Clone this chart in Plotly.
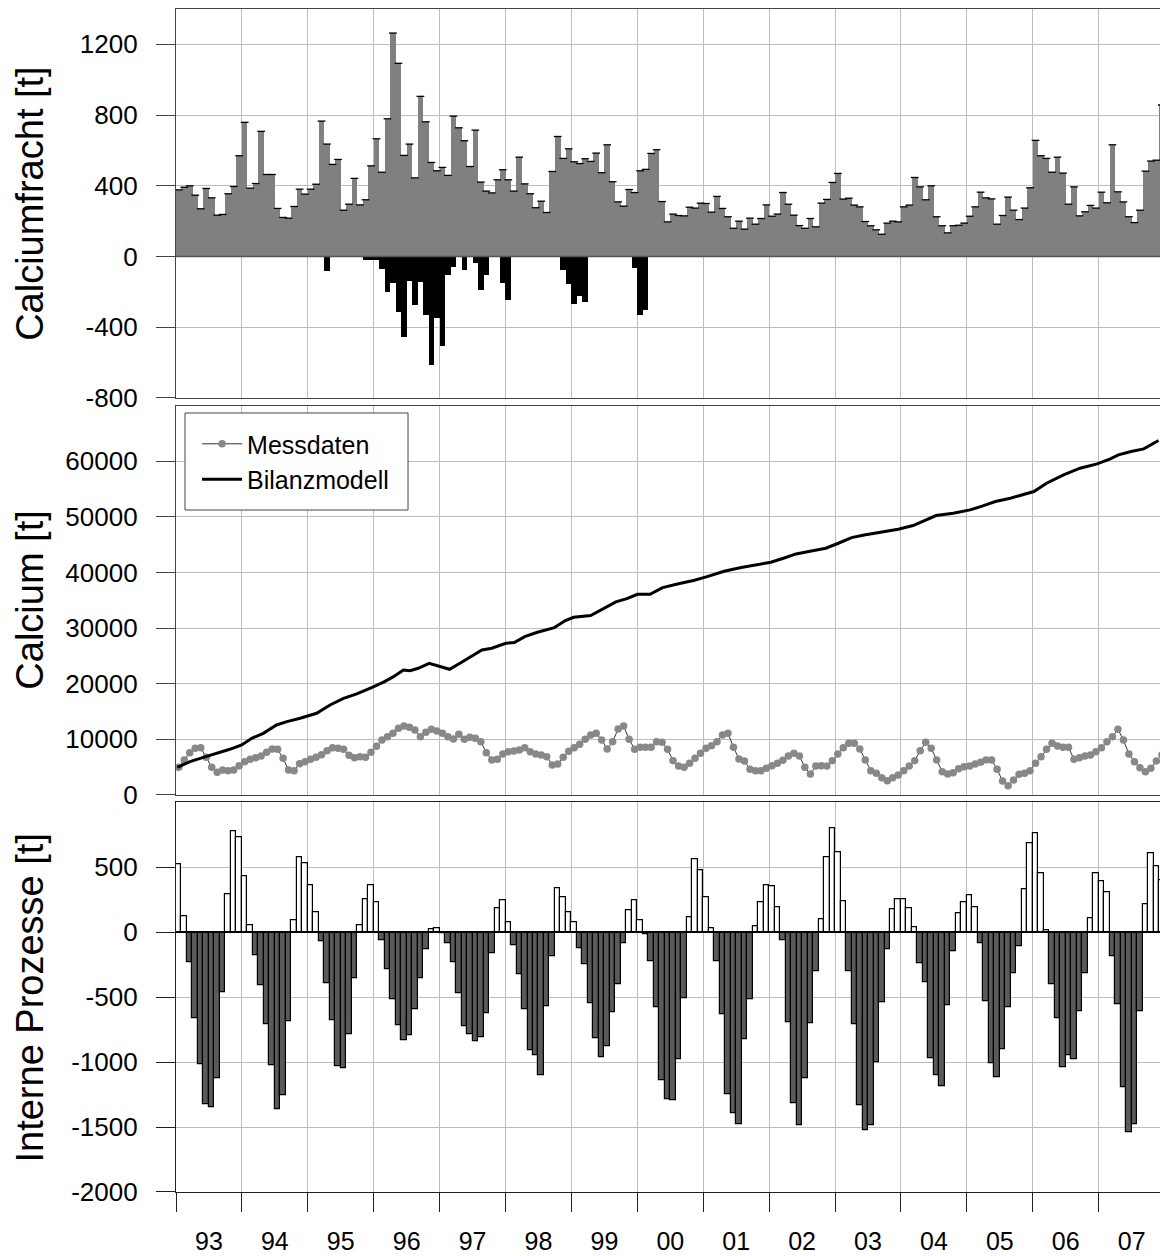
import plotly.graph_objects as go

# ---------------- data (monthly, Jan 1993 .. Dec 2007) ----------------
year_labels = ["93", "94", "95", "96", "97", "98", "99", "00", "01", "02", "03", "04", "05", "06", "07"]

# Calciumfracht [t] (gray bars, positive)
fracht = [
    377, 392, 400, 347, 270, 385, 332, 234, 238, 355, 396, 570,
    759, 387, 413, 708, 464, 464, 272, 221, 217, 283, 381, 353,
    381, 409, 766, 636, 521, 549, 262, 296, 442, 292, 321, 513,
    666, 477, 779, 1264, 1093, 572, 636, 445, 906, 762, 532, 485,
    504, 459, 794, 728, 655, 509, 715, 421, 370, 360, 434, 491,
    434, 370, 562, 411, 355, 276, 313, 249, 481, 679, 555, 609,
    536, 526, 553, 538, 585, 474, 632, 423, 309, 285, 379, 362,
    485, 493, 583, 604, 311, 196, 240, 232, 230, 279, 274, 302,
    300, 251, 340, 272, 225, 160, 200, 155, 217, 183, 215, 292,
    228, 240, 362, 296, 234, 175, 160, 215, 168, 302, 323, 419,
    470, 325, 330, 291, 281, 198, 174, 151, 126, 189, 200, 196,
    281, 291, 447, 394, 321, 400, 225, 174, 134, 174, 177, 189,
    228, 281, 364, 332, 326, 183, 232, 336, 262, 209, 274, 389,
    657, 570, 555, 477, 562, 472, 296, 394, 230, 253, 289, 274,
    364, 304, 632, 366, 309, 225, 192, 262, 483, 540, 545, 857,
]

# Calciumfracht negative part (black bars): month index since Jan 1993 and value
fracht_neg_month = [27, 34, 35, 36, 37, 38, 39, 40, 41, 42, 43, 44, 45, 46, 47, 48, 49, 50,
                    52, 54, 55, 56, 59, 60, 70, 71, 72, 73, 74, 83, 84, 85]
fracht_neg_value = [-81, -20, -20, -20, -68, -202, -151, -315, -457, -138, -274, -143, -330,
                    -611, -345, -508, -106, -60, -79, -38, -192, -102, -151, -245,
                    -75, -155, -270, -221, -255, -66, -330, -302]

# Calcium [t] - Messdaten (monthly)
messdaten = [
    4976, 6295, 7614, 8393, 8513, 6774, 4976, 4077, 4496, 4376, 4496, 5276,
    5995, 6415, 6714, 7014, 7674, 8273, 8213, 6594, 4496, 4376, 5635, 5995,
    6415, 6774, 7254, 7973, 8513, 8393, 8213, 7134, 6714, 6894, 6774, 7674,
    8753, 9892, 10491, 11091, 11990, 12410, 12170, 11690, 10491, 11271, 11810, 11510,
    11091, 10491, 10072, 10911, 10012, 10371, 10192, 9592, 7614, 6295, 6415, 7374,
    7794, 7913, 8093, 8513, 7794, 7374, 7194, 6894, 5396, 5575, 6774, 7853,
    8513, 9112, 10012, 10791, 11091, 9892, 8273, 9592, 11870, 12410, 10012, 8213,
    8573, 8573, 8573, 9592, 9472, 8213, 6175, 5216, 4976, 5695, 6594, 7494,
    8393, 8873, 9592, 10791, 11091, 8573, 6475, 6115, 4616, 4376, 4376, 4796,
    5276, 5695, 6235, 7014, 7494, 7014, 4976, 3777, 5216, 5276, 5216, 6175,
    7374, 8513, 9292, 9292, 8273, 6295, 4376, 3897, 3117, 2578, 3117, 3597,
    4376, 5216, 6175, 7973, 9472, 8393, 6295, 4197, 3777, 4017, 4736, 5096,
    5216, 5575, 5875, 6295, 6295, 4616, 2518, 1679, 2698, 3717, 3897, 4376,
    5695, 6894, 8213, 9292, 8813, 8573, 8573, 6415, 6714, 7014, 7194, 7794,
    8513, 9592, 10491, 11810, 9892, 7374, 5995, 4916, 4197, 4796, 6115, 7194,
]

# Calcium [t] - Bilanzmodell (read at months since Jan 1993)
model_month = [0.24, 2.55, 4.98, 7.4, 9.8, 11.96, 13.8, 15.9, 18.3, 20.2, 22.6, 25.6, 28.05,
               30.5, 32.9, 35.3, 37.8, 39.6, 41.4, 42.6, 44.1, 46.1, 48.1, 49.8, 51.7, 53.6,
               55.7, 57.5, 59.0, 60.05, 61.6, 63.5, 65.8, 68.9, 70.9, 72.4, 75.5, 77.8, 80.1,
               82.1, 84.0, 86.3, 88.6, 91.3, 94.4, 96.7, 99.8, 102.9, 106.0, 108.3, 110.6,
               112.9, 115.2, 118.3, 120.6, 123.0, 125.3, 128.4, 131.5, 134.2, 136.1, 138.4,
               141.5, 144.6, 146.9, 149.2, 151.9, 153.8, 156.2, 158.5, 161.6, 164.6, 167.7,
               170.0, 171.6, 173.9, 176.2, 178.9]
model_value = [4976, 5995, 6774, 7494, 8213, 8993, 10192, 11091, 12590, 13189, 13789, 14688, 16187,
               17386, 18165, 19184, 20300, 21282, 22481, 22361, 22781, 23680, 23080, 22601, 23680,
               24879, 26078, 26378, 26978, 27277, 27397, 28476, 29256, 30095, 31354, 31954, 32253,
               33452, 34711, 35311, 36090, 36090, 37289, 37949, 38608, 39267, 40227, 40886, 41426,
               41845, 42565, 43344, 43764, 44363, 45262, 46281, 46761, 47301, 47780, 48440, 49279,
               50238, 50658, 51258, 51977, 52756, 53356, 53836, 54555, 56053, 57552, 58751, 59530,
               60370, 61149, 61749, 62228, 63727]

# Interne Prozesse [t] (monthly)
interne = [
    519, 121, -234, -663, -1014, -1323, -1348, -1122, -465, 295, 773, 734,
    434, 56, -177, -406, -711, -1027, -1364, -1253, -686, 92, 578, 529,
    360, 157, -69, -395, -681, -1035, -1048, -786, -354, 51, 257, 360,
    231, -62, -285, -516, -716, -829, -794, -593, -354, -128, 23, 33,
    -8, -85, -234, -470, -727, -786, -842, -811, -624, -162, 185, 244,
    74, -98, -324, -591, -907, -948, -1104, -568, -182, 339, 270, 154,
    77, -123, -247, -547, -814, -963, -876, -619, -398, -85, 169, 247,
    90, -15, -221, -575, -1140, -1284, -1292, -976, -508, 113, 562, 475,
    267, 28, -221, -632, -1251, -1394, -1477, -822, -519, 49, 231, 362,
    357, 190, -59, -693, -1320, -1484, -1127, -701, -300, 98, 578, 799,
    614, 239, -300, -706, -1330, -1523, -1489, -1002, -539, -128, 177, 257,
    252, 185, 36, -241, -388, -971, -1104, -1184, -560, -144, 146, 234,
    282, 193, -85, -529, -1007, -1115, -899, -575, -318, -105, 331, 686,
    763, 457, 13, -398, -663, -1043, -950, -978, -609, -316, 108, 452,
    393, 308, -187, -555, -1194, -1543, -1477, -606, 216, 609, 511, 400,
]

# y tick values of the three panels
ticks_fracht = [-800, -400, 0, 400, 800, 1200]
ticks_calcium = [0, 10000, 20000, 30000, 40000, 50000, 60000]
ticks_interne = [-2000, -1500, -1000, -500, 0, 500]

# ---------------- figure ----------------
FONT = "Liberation Sans, Arial, Helvetica, sans-serif"
GRID = "#bdbdbd"
AX = "#444444"
N = len(fracht)
x_mid = [1993 + (i + 0.5) / 12 for i in range(N)]
x_neg = [1993 + (m + 0.5) / 12 for m in fracht_neg_month]
x_model = [1993 + m / 12 for m in model_month]
BW = 1.0 / 12 * 1.02

fig = go.Figure()

# top panel
fig.add_trace(go.Bar(x=x_mid, y=fracht, width=BW, marker=dict(color="#808080", line=dict(width=0)),
                     xaxis="x", yaxis="y", showlegend=False, hoverinfo="skip"))
fig.add_trace(go.Scatter(x=x_mid, y=fracht, mode="markers",
                         marker=dict(symbol="line-ew", size=5.5, line=dict(width=1.3, color="black")),
                         xaxis="x", yaxis="y", showlegend=False, hoverinfo="skip"))
fig.add_trace(go.Bar(x=x_neg, y=fracht_neg_value, width=BW, marker=dict(color="black", line=dict(width=0)),
                     xaxis="x", yaxis="y", showlegend=False, hoverinfo="skip"))

# middle panel
fig.add_trace(go.Scatter(x=x_mid, y=messdaten, mode="lines+markers", name="Messdaten",
                         line=dict(color="#333333", width=1),
                         marker=dict(color="#888888", size=7.5),
                         xaxis="x2", yaxis="y2"))
fig.add_trace(go.Scatter(x=x_model, y=model_value, mode="lines", name="Bilanzmodell",
                         line=dict(color="black", width=3),
                         xaxis="x2", yaxis="y2"))

# bottom panel
fig.add_trace(go.Bar(x=x_mid, y=interne, width=1.0 / 12,
                     marker=dict(color=["white" if v >= 0 else "#5a5a5a" for v in interne],
                                 line=dict(color="black", width=1.2)),
                     xaxis="x3", yaxis="y3", showlegend=False, hoverinfo="skip"))

XR = [1993, 2007.93]
tickvals_mid = [1993.5 + j for j in range(len(year_labels))]


def xaxis(show_labels, anchor, linecolor):
    d = dict(range=XR, anchor=anchor, showgrid=False, zeroline=False, automargin=False,
             showline=True, mirror=True, linecolor=linecolor, linewidth=1.3,
             tickmode="array", tickvals=tickvals_mid, ticktext=year_labels,
             showticklabels=show_labels,
             tickfont=dict(size=25, color="black", family=FONT),
             minor=dict(tick0=1993, dtick=1, showgrid=True, gridcolor=GRID, gridwidth=1))
    if show_labels:
        d.update(ticks="outside", ticklen=19, tickcolor="rgba(0,0,0,0)", ticklabelstandoff=8)
        d["minor"].update(ticks="outside", ticklen=19, tickcolor="#222222", tickwidth=1)
    else:
        d.update(ticks="")
    return d


def yaxis(domain, rng, tickvals, anchor, linecolor):
    return dict(domain=domain, range=rng, anchor=anchor, tickmode="array", tickvals=tickvals,
                ticktext=[str(v) for v in tickvals], automargin=False,
                showgrid=True, gridcolor=GRID, gridwidth=1, zeroline=False,
                showline=True, linecolor=linecolor, linewidth=1.3,
                ticks="outside", ticklen=19, tickcolor=linecolor, tickwidth=1,
                ticklabelstandoff=13,
                tickfont=dict(size=26, color="black", family=FONT))


D1 = [0.6712, 1.0]
D2 = [0.3356, 0.6647]
D3 = [0.0, 0.3294]
TITLE_SIZE = 38

fig.update_layout(
    width=1160, height=1256,
    margin=dict(l=176, r=0, t=9, b=64, pad=0, autoexpand=False),
    paper_bgcolor="white", plot_bgcolor="white",
    font=dict(family=FONT, color="black"),
    barmode="overlay", bargap=0,
    xaxis=xaxis(False, "y", AX),
    xaxis2=xaxis(False, "y2", AX),
    xaxis3=xaxis(True, "y3", "#222222"),
    yaxis=yaxis(D1, [-800, 1400], ticks_fracht, "x", AX),
    yaxis2=yaxis(D2, [0, 70000], ticks_calcium, "x2", AX),
    yaxis3=yaxis(D3, [-2000, 1000], ticks_interne, "x3", "#222222"),
    legend=dict(x=0.0092, y=0.6517, xref="paper", yref="paper", xanchor="left", yanchor="top",
                bgcolor="rgba(0,0,0,0)", borderwidth=0,
                indentation=12, itemwidth=40,
                font=dict(size=25, color="black", family=FONT)),
    showlegend=True,
    shapes=[
        dict(type="line", xref="x domain", yref="y", x0=0, x1=1, y0=0, y1=0,
             line=dict(color="#555555", width=1.5), layer="above"),
        dict(type="line", xref="x3 domain", yref="y3", x0=0, x1=1, y0=0, y1=0,
             line=dict(color="black", width=1.5), layer="above"),
        # legend frame
        dict(type="rect", xref="paper", yref="paper", x0=0.00915, x1=0.2358, y0=0.5765, y1=0.6585,
             line=dict(color="#444444", width=1), fillcolor="white", layer="above"),
    ],
    annotations=[
        dict(text="Calciumfracht [t]", xref="paper", yref="paper", x=-0.148, y=sum(D1) / 2,
             textangle=-90, showarrow=False, xanchor="center", yanchor="middle",
             font=dict(size=TITLE_SIZE, color="black", family=FONT)),
        dict(text="Calcium [t]", xref="paper", yref="paper", x=-0.148, y=sum(D2) / 2,
             textangle=-90, showarrow=False, xanchor="center", yanchor="middle",
             font=dict(size=TITLE_SIZE, color="black", family=FONT)),
        dict(text="Interne Prozesse [t]", xref="paper", yref="paper", x=-0.148, y=sum(D3) / 2,
             textangle=-90, showarrow=False, xanchor="center", yanchor="middle",
             font=dict(size=TITLE_SIZE, color="black", family=FONT)),
    ],
)

fig.write_html("out.html", config={"displayModeBar": False},
               post_script="document.body.style.margin='0px';")
